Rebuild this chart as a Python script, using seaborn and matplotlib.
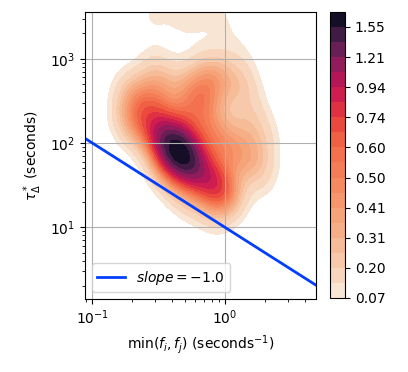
"""
KDE of tau*_Delta against min(f_i, f_j), log-log, with a slope -1 reference line.
"""

import numpy as np
import pandas as pd
import matplotlib
matplotlib.use("Agg")
import matplotlib.pyplot as plt
import seaborn as sns

# ── Data (log10 positions + weights) ───────────────────────────────────────────
LOG_FREQ = [-0.36, -0.30, -0.42, -0.25, -0.15, -0.05, 0.00, -0.50, -0.55, -0.30,
            -0.15, -0.08, -0.25, -0.50, -0.65, -0.70, 0.15, 0.20, 0.15, -0.10,
            -0.30, -0.45, 0.05, -0.10, 0.28, 0.28, 0.25, -0.70, -0.72, -0.50,
            0.10, -0.55, -0.30, -0.05, 0.12]
LOG_TAU = [1.92, 1.85, 2.00, 1.75, 1.60, 1.50, 1.42, 2.10, 2.30, 2.30,
           2.50, 2.78, 2.65, 2.60, 2.50, 2.20, 2.20, 1.80, 2.60, 1.20,
           1.40, 1.70, 1.90, 2.10, 1.90, 2.20, 1.60, 2.60, 2.30, 2.85,
           2.85, 3.52, 3.54, 3.50, 3.22]
WEIGHT = [7.5, 6, 4.5, 4.5, 4, 3.5, 3, 3.5, 3, 3.5,
          3, 3.5, 2.5, 2.5, 2, 2, 1.5, 1.5, 1.5, 1.5,
          2, 2.5, 3, 3.5, 1, 1, 1, 1.2, 1, 1.5,
          1.2, 0.9, 1.3, 0.9, 0.4]

SLOPE = -1.0
LINE_X = [0.088, 4.9]

XLIM = (0.088, 4.9)
YLIM = (1.4, 3600)

df = pd.DataFrame({
    "freq": np.power(10.0, LOG_FREQ),
    "tau": np.power(10.0, LOG_TAU),
    "w": WEIGHT,
})

fig = plt.figure(figsize=(4.08, 3.72), dpi=100)
ax = fig.add_axes([0.208, 0.196, 0.567, 0.772])
cax = fig.add_axes([0.809, 0.199, 0.037, 0.769])

sns.kdeplot(
    data=df, x="freq", y="tau", weights="w",
    log_scale=True, fill=True, levels=20, thresh=0.05,
    cmap="rocket_r", bw_adjust=0.75,
    cbar=True, cbar_ax=cax, cbar_kws={"format": "%.2f"}, ax=ax,
)

line_x = np.array(LINE_X)
ax.plot(line_x, 10 * line_x ** SLOPE, color="#023eff", linewidth=2,
        label=f"$slope = {SLOPE}$")

ax.set_xlim(*XLIM)
ax.set_ylim(*YLIM)
ax.grid(True, which="major", color="#b0b0b0", linewidth=0.8)
ax.set_xlabel(r"min($f_i, f_j$) (seconds$^{-1}$)")
ax.set_ylabel(r"$\tau^*_\Delta$ (seconds)")
ax.legend(loc="lower left")

fig.savefig("out.png", dpi=100)
